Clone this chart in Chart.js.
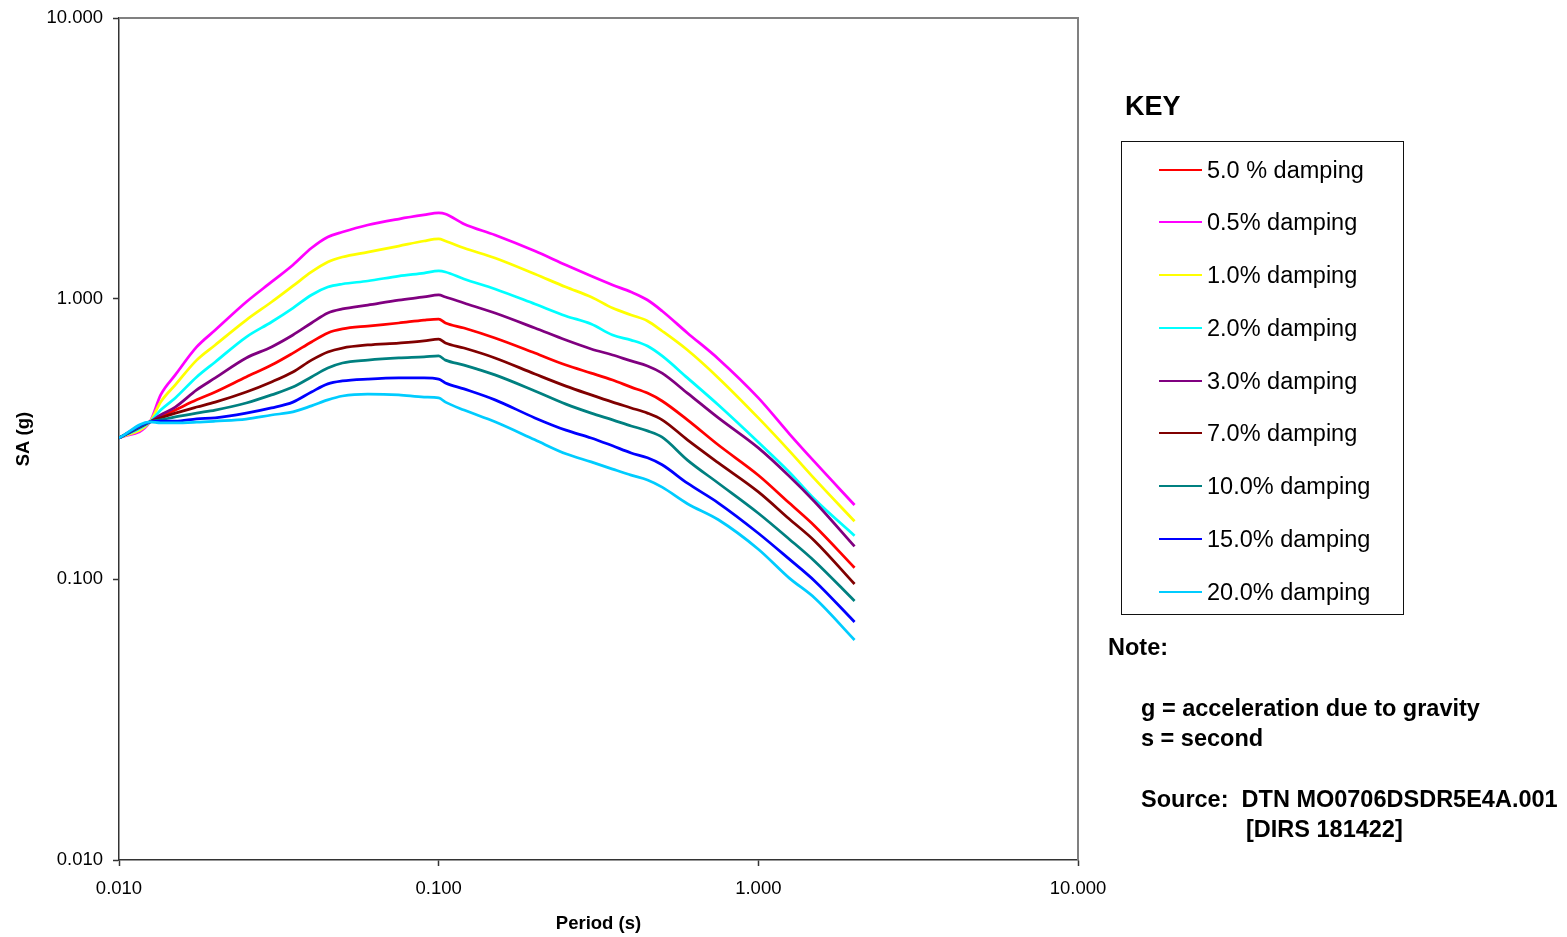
<!DOCTYPE html>
<html><head><meta charset="utf-8">
<script src="https://cdn.jsdelivr.net/npm/chart.js@4/dist/chart.umd.min.js"></script>
<style>
html,body{margin:0;padding:0;background:#fff;}
#wrap{position:relative;width:1567px;height:937px;font-family:Arial,"Liberation Sans",sans-serif;color:#000;overflow:hidden;}
canvas{position:absolute;left:0;top:0;}
.abs{position:absolute;white-space:nowrap;}
.note{font-size:23.5px;font-weight:bold;line-height:30px;}
</style></head><body>
<div id="wrap">
<canvas id="c" width="1567" height="937"></canvas>
<div class="abs" style="left:1125px;top:89px;font-size:27px;font-weight:bold;line-height:34px;">KEY</div>
<div class="abs" id="legend" style="left:1121px;top:141px;width:281px;height:472px;border:1px solid #111;"></div>
<div class="abs note" style="left:1108px;top:632px;">Note:</div>
<div class="abs note" style="left:1141px;top:693px;">g = acceleration due to gravity</div>
<div class="abs note" style="left:1141px;top:723px;">s = second</div>
<div class="abs note" style="left:1141px;top:784px;">Source:&nbsp; DTN MO0706DSDR5E4A.001</div>
<div class="abs note" style="left:1246px;top:814px;">[DIRS 181422]</div>
</div>
<script>
// Periods (s)
const periods = [0.01, 0.0125, 0.0135, 0.015, 0.0175, 0.02, 0.025, 0.03, 0.035, 0.04, 0.045, 0.05, 0.06, 0.075, 0.09, 0.1, 0.105, 0.12, 0.15, 0.2, 0.25, 0.3, 0.35, 0.4, 0.45, 0.5, 0.6, 0.75, 1.0, 1.25, 1.5, 2.0];

// Spectral acceleration (g) per damping
const damp5_0  = [0.319, 0.364, 0.379, 0.401, 0.436, 0.465, 0.526, 0.580, 0.640, 0.701, 0.755, 0.780, 0.799, 0.819, 0.839, 0.846, 0.819, 0.786, 0.724, 0.640, 0.580, 0.543, 0.513, 0.484, 0.461, 0.432, 0.370, 0.301, 0.235, 0.187, 0.155, 0.110];
const damp0_5  = [0.319, 0.364, 0.454, 0.535, 0.673, 0.773, 0.973, 1.147, 1.318, 1.515, 1.659, 1.728, 1.830, 1.922, 1.987, 2.020, 2.003, 1.845, 1.686, 1.478, 1.318, 1.204, 1.119, 1.056, 0.989, 0.904, 0.755, 0.610, 0.443, 0.330, 0.262, 0.184];
const damp1_0  = [0.319, 0.364, 0.428, 0.493, 0.604, 0.684, 0.839, 0.973, 1.110, 1.245, 1.351, 1.408, 1.466, 1.540, 1.605, 1.632, 1.605, 1.515, 1.396, 1.224, 1.100, 1.014, 0.926, 0.875, 0.833, 0.767, 0.656, 0.522, 0.376, 0.287, 0.228, 0.161];
const damp2_0  = [0.319, 0.364, 0.401, 0.443, 0.526, 0.595, 0.730, 0.826, 0.926, 1.031, 1.100, 1.128, 1.156, 1.204, 1.234, 1.255, 1.245, 1.175, 1.083, 0.957, 0.868, 0.812, 0.742, 0.712, 0.678, 0.625, 0.522, 0.418, 0.308, 0.241, 0.193, 0.143];
const damp3_0  = [0.319, 0.364, 0.385, 0.411, 0.473, 0.522, 0.615, 0.673, 0.742, 0.819, 0.889, 0.919, 0.949, 0.989, 1.014, 1.031, 1.014, 0.965, 0.889, 0.786, 0.712, 0.662, 0.630, 0.600, 0.576, 0.543, 0.461, 0.376, 0.294, 0.233, 0.189, 0.131];
const damp7_0  = [0.319, 0.364, 0.376, 0.391, 0.411, 0.428, 0.465, 0.505, 0.548, 0.604, 0.646, 0.667, 0.684, 0.695, 0.707, 0.718, 0.695, 0.667, 0.615, 0.539, 0.488, 0.454, 0.428, 0.408, 0.391, 0.370, 0.314, 0.260, 0.205, 0.164, 0.137, 0.0962];
const damp10_0 = [0.319, 0.364, 0.370, 0.379, 0.391, 0.401, 0.425, 0.454, 0.484, 0.526, 0.566, 0.590, 0.604, 0.615, 0.620, 0.625, 0.604, 0.580, 0.535, 0.469, 0.421, 0.391, 0.370, 0.352, 0.338, 0.321, 0.266, 0.220, 0.172, 0.139, 0.116, 0.0837];
const damp15_0 = [0.319, 0.364, 0.366, 0.366, 0.373, 0.376, 0.391, 0.408, 0.428, 0.465, 0.497, 0.509, 0.517, 0.522, 0.522, 0.517, 0.501, 0.477, 0.436, 0.376, 0.340, 0.319, 0.299, 0.282, 0.271, 0.256, 0.220, 0.187, 0.146, 0.118, 0.0987, 0.0705];
const damp20_0 = [0.319, 0.364, 0.361, 0.361, 0.363, 0.366, 0.372, 0.385, 0.395, 0.415, 0.436, 0.450, 0.457, 0.454, 0.446, 0.443, 0.428, 0.401, 0.364, 0.314, 0.280, 0.262, 0.247, 0.235, 0.226, 0.213, 0.186, 0.163, 0.128, 0.101, 0.0858, 0.0608];

const seriesLabels = ['5.0 % damping', '0.5% damping', '1.0% damping', '2.0% damping', '3.0% damping', '7.0% damping', '10.0% damping', '15.0% damping', '20.0% damping'];
const seriesValues = [damp5_0, damp0_5, damp1_0, damp2_0, damp3_0, damp7_0, damp10_0, damp15_0, damp20_0];
const seriesColors = ['#FF0000', '#FF00FF', '#FFFF00', '#00FFFF', '#800080', '#800000', '#008080', '#0000FF', '#00CCFF'];

const xTickValues = [0.01, 0.1, 1, 10];
const yTickValues = [0.01, 0.1, 1, 10];

const FONT = 'Arial, "Liberation Sans", sans-serif';

const framePlugin = {
  id: 'frame',
  beforeDatasetsDraw(chart) {
    const {ctx, chartArea: a} = chart;
    ctx.save();
    ctx.strokeStyle = '#808080';
    ctx.lineWidth = 2;
    ctx.beginPath();
    ctx.moveTo(a.left, a.top);
    ctx.lineTo(a.right, a.top);
    ctx.lineTo(a.right, a.bottom);
    ctx.stroke();
    ctx.restore();
  }
};

const n = seriesValues.length;
const datasets = seriesValues.map((vals, i) => ({
  label: seriesLabels[i],
  data: periods.map((p, j) => ({x: p, y: vals[j]})),
  borderColor: seriesColors[i],
  backgroundColor: seriesColors[i],
  borderWidth: 2.75,
  pointRadius: 0,
  cubicInterpolationMode: 'monotone',
  fill: false,
  order: n - 1 - i
}));

new Chart(document.getElementById('c').getContext('2d'), {
  type: 'line',
  data: {datasets},
  options: {
    responsive: false,
    animation: false,
    devicePixelRatio: 1,
    layout: {padding: {left: 0, top: 18, right: 489, bottom: 0}},
    plugins: {legend: {display: false}, tooltip: {enabled: false}},
    scales: {
      x: {
        type: 'logarithmic', min: 0.01, max: 10, position: 'bottom',
        afterBuildTicks: s => { s.ticks = xTickValues.map(v => ({value: v})); },
        afterFit: s => { s.height = 77; s.paddingLeft = 0; s.paddingRight = 0; },
        ticks: {callback: v => Number(v).toFixed(3), font: {family: FONT, size: 18.5}, color: '#000', padding: 12, maxRotation: 0, autoSkip: false},
        grid: {display: true, drawOnChartArea: false, drawTicks: true, tickLength: 6, tickColor: '#333', tickWidth: 1.5},
        border: {display: true, color: '#333', width: 1.5},
        title: {display: true, text: 'Period (s)', font: {family: FONT, size: 18.5, weight: 'bold'}, color: '#000', padding: {top: 0, bottom: 2}}
      },
      y: {
        type: 'logarithmic', min: 0.01, max: 10, position: 'left',
        afterBuildTicks: s => { s.ticks = yTickValues.map(v => ({value: v})); },
        afterFit: s => { s.width = 119; s.paddingTop = 0; s.paddingBottom = 0; },
        ticks: {callback: v => Number(v).toFixed(3), font: {family: FONT, size: 18.5}, color: '#000', padding: 10, autoSkip: false},
        grid: {display: true, drawOnChartArea: false, drawTicks: true, tickLength: 6, tickColor: '#333', tickWidth: 1.5},
        border: {display: true, color: '#333', width: 1.5},
        title: {display: true, text: 'SA (g)', font: {family: FONT, size: 18.5, weight: 'bold'}, color: '#000', padding: {top: 13, bottom: 0}}
      }
    }
  },
  plugins: [framePlugin]
});

// Legend (KEY) built from the series arrays
const legend = document.getElementById('legend');
const rowCenters = [28, 80, 133, 186, 239, 291, 344, 397, 450];
seriesLabels.forEach((lab, i) => {
  const row = document.createElement('div');
  row.className = 'abs';
  row.style.left = '0px';
  row.style.top = (rowCenters[i] - 15) + 'px';
  row.style.height = '30px';
  row.style.width = '281px';
  const line = document.createElement('div');
  line.className = 'abs';
  line.style.left = '37px';
  line.style.top = '14px';
  line.style.width = '43px';
  line.style.height = '2px';
  line.style.background = seriesColors[i];
  const txt = document.createElement('div');
  txt.className = 'abs';
  txt.style.left = '85px';
  txt.style.top = '0px';
  txt.style.lineHeight = '30px';
  txt.style.fontSize = '23.5px';
  txt.textContent = lab;
  row.appendChild(line);
  row.appendChild(txt);
  legend.appendChild(row);
});
</script>
</body></html>
